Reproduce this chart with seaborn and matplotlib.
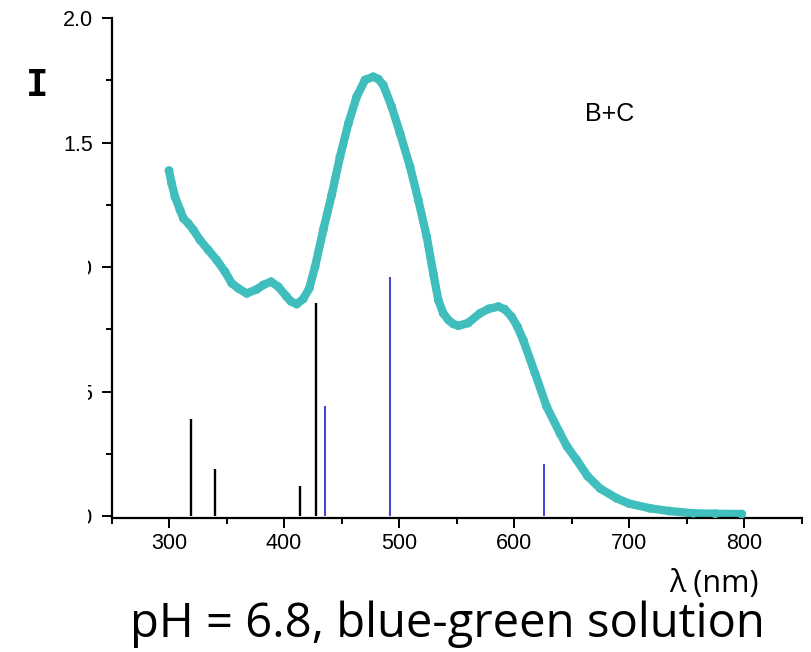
import matplotlib
matplotlib.use("Agg")
import matplotlib.pyplot as plt
from matplotlib.patches import Rectangle
import seaborn as sns
import pandas as pd
import numpy as np

# ---- data ----
wavelength = [300, 302.3, 305.2, 309.6, 312.5, 316.8, 321.2, 327, 334.2, 341.5,
              348.7, 354.5, 360.3, 367.5, 376.2, 382, 388.7, 395, 402.3, 406,
              411, 416.8, 422, 427, 434.2, 441.5, 448.7, 456, 463.2, 470.4,
              477.6, 482, 486.3, 493.6, 500.9, 509.6, 516.8, 524.1, 530, 534.2,
              538.5, 543, 547, 551.6, 560, 570.4, 578, 586.4, 592, 598, 603,
              608, 618.3, 628.4, 640, 646, 654.5, 664, 675, 689.3, 700,
              718.3, 735, 756, 775, 798]
intensity = [1.387, 1.336, 1.282, 1.229, 1.195, 1.175, 1.149, 1.108, 1.068, 1.028,
             0.981, 0.935, 0.914, 0.894, 0.910, 0.928, 0.941, 0.921, 0.881, 0.862,
             0.851, 0.872, 0.915, 1.001, 1.150, 1.290, 1.443, 1.577, 1.684, 1.751,
             1.764, 1.755, 1.731, 1.644, 1.537, 1.403, 1.269, 1.122, 0.970, 0.867,
             0.814, 0.787, 0.772, 0.764, 0.775, 0.814, 0.832, 0.841, 0.830, 0.800, 0.760,
             0.707, 0.573, 0.439, 0.332, 0.280, 0.225, 0.160, 0.110, 0.071, 0.050,
             0.031, 0.020, 0.011, 0.009, 0.008]

black_sticks_x = [319, 340, 414, 428]
black_sticks_y = [0.39, 0.19, 0.12, 0.855]
blue_sticks_x = [435.6, 492, 626]
blue_sticks_y = [0.44, 0.96, 0.21]

x_ticks = [300, 400, 500, 600, 700, 800]
y_ticks = [0.0, 0.5, 1.0, 1.5, 2.0]
y_tick_labels = ["0.0", "0.5", "1.0", "1.5", "2.0"]

annotation = "B+C"
x_label = "λ (nm)"
y_label = "I"
caption = "pH = 6.8, blue-green solution"

# ---- plot ----
sns.set_style("ticks")
plt.rcParams["font.family"] = ["Liberation Sans", "DejaVu Sans"]

fig = plt.figure(figsize=(8.12, 6.52), dpi=100)
ax = fig.add_axes([111.5 / 812, (652 - 517.5) / 652, 690 / 812, 499.5 / 652])

df = pd.DataFrame({"wl": wavelength, "I": intensity})
teal = "#40BEBE"
sns.lineplot(data=df, x="wl", y="I", ax=ax, color=teal, linewidth=6,
             solid_capstyle="round", solid_joinstyle="round", sort=False)
sns.scatterplot(data=df, x="wl", y="I", ax=ax, color=teal, s=40,
                edgecolor="none", zorder=3)

ax.vlines(black_sticks_x, 0, black_sticks_y, colors="black", linewidth=1.7, zorder=2)
ax.vlines(blue_sticks_x, 0, blue_sticks_y, colors="#4646D6", linewidth=1.5, zorder=2)

ax.set_xlim(250, 850)
ax.set_ylim(-0.006, 2.0)
ax.set_xticks(x_ticks)
ax.set_xticks(np.arange(250, 851, 50), minor=True)
ax.set_yticks(y_ticks)
ax.set_yticklabels(y_tick_labels)
ax.set_yticks([0.25, 0.75, 1.25, 1.75], minor=True)
ax.set_xlabel("")
ax.set_ylabel("")

for side in ["top", "right"]:
    ax.spines[side].set_visible(False)
for side in ["left", "bottom"]:
    ax.spines[side].set_linewidth(1.6)
    ax.spines[side].set_color("black")

ax.tick_params(axis="both", which="major", direction="out", length=7.5, width=1.4,
               labelsize=15.5, color="black", labelcolor="black")
ax.tick_params(axis="both", which="minor", direction="out", length=4, width=1.4,
               color="black")
ax.tick_params(axis="y", which="major", pad=6)
ax.tick_params(axis="x", which="major", pad=4)

fig.text(585 / 812, 1 - 114 / 652, annotation, fontsize=18, ha="left", va="center",
         color="black")

# handwritten-like intensity label
fig.text(37 / 812, 1 - 86 / 652, y_label, fontsize=27, family="DejaVu Sans Mono",
         fontweight="bold", ha="center", va="center", color="black")

# mask that hides part of the lower y tick labels, as in the reference
fig.add_artist(Rectangle((0, (652 - 545) / 652), 88 / 812, 345 / 652,
                         transform=fig.transFigure, facecolor="white",
                         edgecolor="none", zorder=10))

fig.text(759 / 812, (652 - 592) / 652, x_label, fontsize=22,
         family=["Open Sans", "DejaVu Sans"],
         ha="right", va="baseline", color="black")
fig.text(130 / 812, (652 - 637) / 652, caption, fontsize=34,
         family=["Open Sans", "DejaVu Sans"],
         ha="left", va="baseline", color="black")

fig.savefig("out.png", dpi=100, facecolor="white")
